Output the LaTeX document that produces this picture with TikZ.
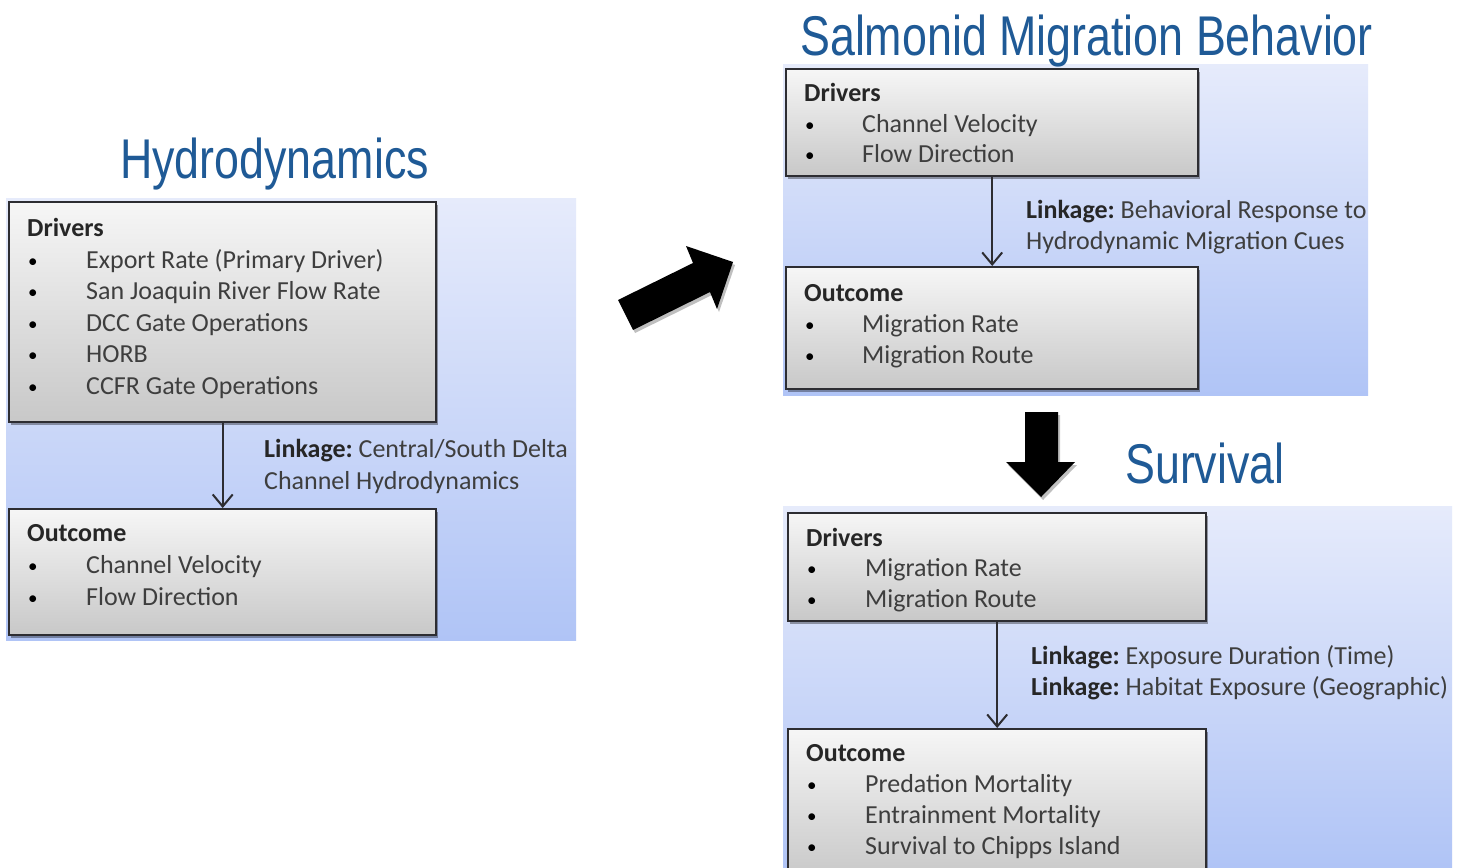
\documentclass[tikz,border=0pt]{standalone}
\usepackage{fontspec}
\setmainfont{Carlito}
\newfontfamily\titlefont[FakeStretch=0.8]{Liberation Sans}
\usetikzlibrary{arrows.meta,shadows}
\definecolor{ttlblue}{RGB}{31,90,150}
\definecolor{txtgray}{RGB}{62,62,62}
\definecolor{bgtop}{RGB}{230,235,251}
\definecolor{bgbot}{RGB}{176,196,246}
\definecolor{boxtop}{RGB}{246,246,246}
\definecolor{boxbot}{RGB}{200,200,200}
\definecolor{boxline}{RGB}{45,45,50}
\tikzset{
  panel/.style={top color=bgtop, bottom color=bgbot, draw=none},
  box/.style={draw=boxline, line width=2.4pt, top color=boxtop, bottom color=boxbot,
    drop shadow={shadow xshift=2pt, shadow yshift=-3pt, opacity=0.35, fill=black},
    anchor=north west, inner sep=0pt},
  txt/.style={font=\fontsize{26}{31}\selectfont, text=txtgray, anchor=base west, inner sep=0pt},
  head/.style={txt, text=black!85, font=\fontsize{26}{31}\selectfont\bfseries},
  bul/.style={txt, text=black, font=\fontsize{19}{31}\selectfont, yshift=1pt},
  ttl/.style={font=\titlefont\fontsize{56}{60}\selectfont, text=ttlblue, anchor=base west, inner sep=0pt},
  link/.style={draw=boxline, line width=2pt, -{Straight Barb[length=12pt,width=20pt,line width=2pt]}},
  blockarrow/.style={fill=black, draw=none, drop shadow={shadow xshift=2pt, shadow yshift=-3pt, opacity=0.25, fill=black}}
}
\begin{document}
\begin{tikzpicture}[x=1pt,y=-1pt]
\useasboundingbox (0,0) rectangle (1463,867);
\fill[white] (0,0) rectangle (1463,867);

% ---------- Panel 1: Hydrodynamics ----------
\fill[panel] (6,198) rectangle (576,640);
\node[ttl] (t1) at (120,178) {Hydrodynamics};
\node[box, minimum width=427pt, minimum height=220pt] (d1) at (8,201) {};
\node[box, minimum width=427pt, minimum height=126pt] (o1) at (8,508) {};
\draw[link] (d1) -- (o1);

\node[head] (d1h) at (27,236) {Drivers};
\foreach \y/\t in {268/Export Rate (Primary Driver), 299/San Joaquin River Flow Rate, 331/DCC Gate Operations, 362/HORB, 394/CCFR Gate Operations}{
  \node[bul] at (28,\y) {\textbullet};
  \node[txt] at (86,\y) {\t};
}
\node[txt] (l1a) at (264,457) {\textbf{\textcolor{black!85}{Linkage:}}\hspace{-2pt} Central/South Delta};
\node[txt] (l1b) at (264,489) {Channel Hydrodynamics};
\node[head] (o1h) at (27,541) {Outcome};
\foreach \y/\t in {573/Channel Velocity, 605/Flow Direction}{
  \node[bul] at (28,\y) {\textbullet};
  \node[txt] at (86,\y) {\t};
}

% ---------- Diagonal block arrow ----------
\fill[blockarrow] (618,300) -- (693,263) -- (686,246) -- (733,262) -- (717,309) -- (710,292) -- (633,330) -- cycle;

% ---------- Panel 2: Salmonid Migration Behavior ----------
\fill[panel] (783,64) rectangle (1368,395);
\node[ttl] (t2) at (800,56) {Salmonid Migration Behavior};
\node[box, minimum width=412pt, minimum height=107pt] (d2) at (785,68) {};
\node[box, minimum width=412pt, minimum height=122pt] (o2) at (785,266) {};
\draw[link] (d2) -- (o2);

\node[head] (d2h) at (804,101) {Drivers};
\foreach \y/\t in {132/Channel Velocity, 162/Flow Direction}{
  \node[bul] at (805,\y) {\textbullet};
  \node[txt] at (862,\y) {\t};
}
\node[txt] (l2a) at (1026,218) {\textbf{\textcolor{black!85}{Linkage:}}\hspace{-2pt} Behavioral Response to};
\node[txt] (l2b) at (1026,249) {Hydrodynamic Migration Cues};
\node[head] (o2h) at (804,301) {Outcome};
\foreach \y/\t in {332/Migration Rate, 363/Migration Route}{
  \node[bul] at (805,\y) {\textbullet};
  \node[txt] at (862,\y) {\t};
}

% ---------- Down block arrow ----------
\fill[blockarrow] (1025,412) -- (1058,412) -- (1058,462) -- (1075,462) -- (1041,497) -- (1006,462) -- (1025,462) -- cycle;

% ---------- Panel 3: Survival ----------
\fill[panel] (783,506) rectangle (1452,867);
\node[ttl] (t3) at (1125,483) {Survival};
\node[box, minimum width=418pt, minimum height=108pt] (d3) at (787,512) {};
\node[box, minimum width=418pt, minimum height=150pt] (o3) at (787,728) {};
\draw[link] (d3.south) -- (o3.north);

\node[head] (d3h) at (806,546) {Drivers};
\foreach \y/\t in {576/Migration Rate, 607/Migration Route}{
  \node[bul] at (807,\y) {\textbullet};
  \node[txt] at (865,\y) {\t};
}
\node[txt] (l3a) at (1031,664) {\textbf{\textcolor{black!85}{Linkage:}}\hspace{-2pt} Exposure Duration (Time)};
\node[txt] (l3b) at (1031,695) {\textbf{\textcolor{black!85}{Linkage:}}\hspace{-2pt} Habitat Exposure (Geographic)};
\node[head] (o3h) at (806,761) {Outcome};
\foreach \y/\t in {792/Predation Mortality, 823/Entrainment Mortality, 854/Survival to Chipps Island}{
  \node[bul] at (807,\y) {\textbullet};
  \node[txt] at (865,\y) {\t};
}
\end{tikzpicture}
\end{document}
